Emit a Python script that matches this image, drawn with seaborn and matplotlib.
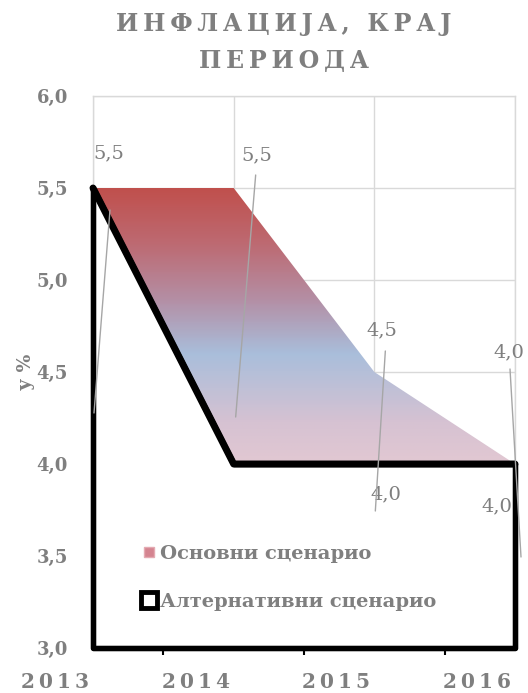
import numpy as np
import matplotlib
matplotlib.use("Agg")
import matplotlib.pyplot as plt
import seaborn as sns
from matplotlib.colors import LinearSegmentedColormap, Normalize
from matplotlib.lines import Line2D
import matplotlib.transforms as mtransforms

# ---- data -------------------------------------------------------------
years = ["2013", "2014", "2015", "2016"]
base_scenario = [5.5, 5.5, 4.5, 4.0]
alt_scenario = [5.5, 4.0, 4.0, 4.0]
series_names = ["Основни сценарио", "Алтернативни сценарио"]
title_lines = ["ИНФЛАЦИЈА, КРАЈ", "ПЕРИОДА"]
y_label = "у %"
y_ticks = [3.0, 3.5, 4.0, 4.5, 5.0, 5.5, 6.0]

# ---- style ------------------------------------------------------------
sns.set_theme(style="white")
plt.rcParams["font.family"] = ["DejaVu Serif", "DejaVu Sans"]

GREY = "#7f7f7f"
GRID = "#d9d9d9"


def spaced(s, sep="\u200a"):
    return sep.join(s)


def fmt(v):
    return f"{v:.1f}".replace(".", ",")


fig = plt.figure(figsize=(5.28, 6.93), dpi=100)
ax = fig.add_axes([93 / 528, 1 - 648 / 693, 422 / 528, 552 / 693])
x = np.arange(len(years))
y_min, y_max = y_ticks[0], y_ticks[-1]

# ---- baseline scenario: gradient-filled area ---------------------------
grad_cmap = LinearSegmentedColormap.from_list(
    "inflation_grad",
    [(0.0, "#e2c8d2"), (0.15, "#d6c2d2"), (0.4, "#a9bedb"),
     (0.6, "#b48ea4"), (0.8, "#bd6a72"), (1.0, "#c0504d")])
area = ax.fill_between(x, base_scenario, y_min, facecolor="none",
                       edgecolor="none", zorder=1)
yy = np.linspace(y_min, max(base_scenario), 400).reshape(-1, 1)
img = ax.imshow(np.repeat(yy, 2, axis=1), extent=[x[0], x[-1], y_min, max(base_scenario)],
                origin="lower", aspect="auto", cmap=grad_cmap,
                norm=Normalize(vmin=min(base_scenario), vmax=max(base_scenario)),
                zorder=1, interpolation="bilinear")
img.set_clip_path(area.get_paths()[0], transform=ax.transData)

# ---- alternative scenario: white area with heavy black outline ---------
ax.fill_between(x, alt_scenario, y_min, facecolor="white", edgecolor="black",
                linewidth=4, zorder=3, clip_on=False)
sns.lineplot(x=x, y=alt_scenario, color="black", linewidth=5, ax=ax,
             zorder=3, clip_on=False)

# ---- axes ------------------------------------------------------------
ax.set_xlim(x[0], x[-1])
ax.set_ylim(y_min, y_max)
ax.set_axisbelow(True)
ax.grid(True, color=GRID, linewidth=1)
for sp in ax.spines.values():
    sp.set_color(GRID)
    sp.set_linewidth(1)

ax.set_yticks(y_ticks)
ax.set_yticklabels([fmt(v) for v in y_ticks], fontsize=13, fontweight="bold",
                   color=GREY)
ax.tick_params(axis="y", length=0, pad=18)

ax.set_xticks(x)
ax.set_xticklabels([spaced(y, "\u2009") for y in years], fontsize=14.5,
                   fontweight="bold", color=GREY, ha="right")
ax.set_xticks([0.5, 1, 1.5, 2, 2.5], minor=True)
ax.tick_params(axis="x", which="major", length=0, pad=17)
ax.tick_params(axis="x", which="minor", bottom=True, length=5, width=1.5,
               color="black", direction="out")
shift = mtransforms.ScaledTranslation(-4 / 100, 0, fig.dpi_scale_trans)
for lab in ax.get_xticklabels():
    lab.set_transform(lab.get_transform() + shift)

ax.set_ylabel("")
ax.set_xlabel("")
fig.text(26 / 528, 1 - 372 / 693, y_label, rotation=90, ha="center",
         va="center", fontsize=13.5, fontweight="bold", color=GREY)

# ---- value labels with leader lines ------------------------------------
series = {"base": base_scenario, "alt": alt_scenario}
# (series, index, text offset px (right, down))
value_labels = [
    ("base", 0, (16, -35)),
    ("base", 1, (23, -33)),
    ("base", 2, (8, -42)),
    ("alt", 2, (12, 30)),
    ("base", 3, (-6, -112)),
    ("alt", 3, (-18, 42)),
]
for key, i, (dx, dy) in value_labels:
    v = series[key][i]
    ax.annotate(fmt(v), xy=(x[i], v), xytext=(dx, -dy),
                textcoords="offset pixels", ha="center", va="center",
                fontsize=14, color=GREY, zorder=5, annotation_clip=False)

# leader segments: (series, index, start px, end px) offsets (right, down)
leaders = [
    ("base", 0, (17, 22), (1, 225)),
    ("base", 1, (22, -13), (2, 229)),
    ("alt", 2, (11, -113), (1, 47)),
    ("base", 3, (-5, -95), (6, 93)),
]
inv = ax.transData.inverted()
for key, i, (x1, y1), (x2, y2) in leaders:
    px, py = ax.transData.transform((x[i], series[key][i]))
    p1 = inv.transform((px + x1, py - y1))
    p2 = inv.transform((px + x2, py - y2))
    ax.plot([p1[0], p2[0]], [p1[1], p2[1]], color="#a6a6a6", linewidth=1,
            zorder=5, clip_on=False)

# ---- legend ------------------------------------------------------------
handles = [
    Line2D([], [], marker="s", linestyle="none", markersize=7,
           markerfacecolor="#d48490", markeredgecolor="#e4aab2"),
    Line2D([], [], marker="s", linestyle="none", markersize=11.5,
           markerfacecolor="white", markeredgecolor="black",
           markeredgewidth=3.5),
]
leg = ax.legend(handles, series_names, loc="center left",
                bbox_to_anchor=(0.073, 0.127), frameon=False,
                handlelength=0.8, handletextpad=0.15, labelspacing=1.55,
                prop={"size": 14, "weight": "bold", "family": "DejaVu Serif"})
for t in leg.get_texts():
    t.set_color(GREY)
leg.set_zorder(6)

# ---- title -------------------------------------------------------------
for line, ypx in zip(title_lines, [24, 61]):
    fig.text(284 / 528, 1 - ypx / 693, spaced(line, "\u2009"), ha="center",
             va="center", fontsize=17, fontweight="bold", color=GREY)

fig.savefig("out.png", dpi=100)
